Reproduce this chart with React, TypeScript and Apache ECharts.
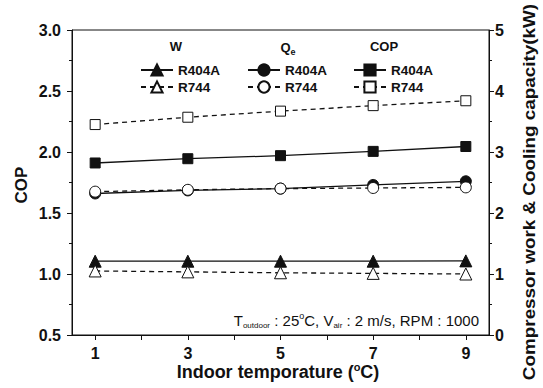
import React, { useEffect, useRef } from "react";
import * as echarts from "echarts";

const categories = ["1", "2", "3", "4", "5", "6", "7", "8", "9"];
const temps = ["1", "3", "5", "7", "9"];
const copR404A = [1.91, 1.945, 1.97, 2.005, 2.045];
const copR744 = [2.225, 2.285, 2.335, 2.38, 2.42];
const qeR404A = [2.32, 2.37, 2.4, 2.46, 2.52];
const qeR744 = [2.35, 2.38, 2.4, 2.41, 2.42];
const wR404A = [1.21, 1.21, 1.21, 1.21, 1.215];
const wR744 = [1.05, 1.035, 1.02, 1.01, 1.0];

const FONT = "Liberation Sans, Arial, Helvetica, sans-serif";
const BLACK = "#111";

function pairs(vals: number[]) {
  return temps.map((t, i) => [t, vals[i]]);
}

export default function App() {
  const ref = useRef<HTMLDivElement>(null);
  useEffect(() => {
    if (!ref.current) return;
    const chart = echarts.init(ref.current, undefined, { renderer: "svg" });
    const mk = (
      name: string,
      vals: number[],
      axis: number,
      symbol: string,
      filled: boolean,
      size: number
    ) => ({
      name,
      type: "line",
      yAxisIndex: axis,
      data: pairs(vals),
      symbol,
      symbolSize: size,
      showSymbol: true,
      lineStyle: { color: BLACK, width: 1.3, type: filled ? "solid" : [5, 4] },
      itemStyle: {
        color: filled ? BLACK : "#fff",
        borderColor: BLACK,
        borderWidth: 1,
      },
      z: filled ? 3 : 4,
    });
    const fmt = (n: string) => n.split("_")[1];
    const legendBase = {
      orient: "vertical",
      top: 63,
      padding: 0,
      itemWidth: 32,
      itemHeight: 14,
      itemGap: 3,
      formatter: fmt,
      textStyle: { fontFamily: FONT, fontWeight: "bold", fontSize: 13.5, color: BLACK },
    };
    chart.setOption({
      animation: false,
      backgroundColor: "#fff",
      grid: {
        left: 72,
        right: 54,
        top: 30,
        bottom: 53,
        show: true,
        borderColor: BLACK,
        borderWidth: 1,
      },
      legend: [
        { ...legendBase, left: 140, data: ["W_R404A", "W_R744"] },
        { ...legendBase, left: 247, data: ["Qe_R404A", "Qe_R744"] },
        { ...legendBase, left: 353, data: ["COP_R404A", "COP_R744"] },
      ],
      xAxis: {
        type: "category",
        data: categories,
        boundaryGap: true,
        axisLine: { lineStyle: { color: BLACK, width: 1 } },
        axisTick: { show: true, alignWithLabel: true, interval: 0, length: 5, lineStyle: { color: BLACK } },
        axisLabel: {
          interval: 1,
          margin: 10,
          fontFamily: FONT,
          fontWeight: "bold",
          fontSize: 16,
          color: BLACK,
        },
      },
      yAxis: [
        {
          type: "value",
          min: 0.5,
          max: 3.0,
          interval: 0.5,
          position: "left",
          splitLine: { show: false },
          axisLine: { show: true, lineStyle: { color: BLACK } },
          axisTick: { show: true, length: 5, lineStyle: { color: BLACK } },
          minorTick: { show: true, splitNumber: 2, length: 3, lineStyle: { color: BLACK } },
          axisLabel: {
            formatter: (v: number) => v.toFixed(1),
            margin: 11,
            fontFamily: FONT,
            fontWeight: "bold",
            fontSize: 16,
            color: BLACK,
          },
        },
        {
          type: "value",
          min: 0,
          max: 5,
          interval: 1,
          position: "right",
          splitLine: { show: false },
          axisLine: { show: true, lineStyle: { color: BLACK } },
          axisTick: { show: true, length: 5, lineStyle: { color: BLACK } },
          minorTick: { show: true, splitNumber: 2, length: 3, lineStyle: { color: BLACK } },
          axisLabel: {
            margin: 6,
            fontFamily: FONT,
            fontWeight: "bold",
            fontSize: 16,
            color: BLACK,
          },
        },
      ],
      graphic: [
        {
          type: "text",
          x: 176,
          y: 46,
          style: { text: "W", fontFamily: FONT, fontWeight: "bold", fontSize: 13, fill: BLACK, align: "center", verticalAlign: "middle" },
        },
        {
          type: "text",
          x: 288,
          y: 47,
          style: {
            text: "Q{sub|e}",
            fontFamily: FONT,
            fontWeight: "bold",
            fontSize: 13,
            fill: BLACK,
            align: "center",
            verticalAlign: "middle",
            rich: { sub: { fontFamily: FONT, fontWeight: "bold", fontSize: 9, fill: BLACK, padding: [9, 0, 0, 0] } },
          },
        },
        {
          type: "text",
          x: 384,
          y: 46,
          style: { text: "COP", fontFamily: FONT, fontWeight: "bold", fontSize: 13, fill: BLACK, align: "center", verticalAlign: "middle" },
        },
        {
          type: "text",
          x: 479,
          y: 320,
          style: {
            text: "T{sub|outdoor} : 25{sup|o}C, V{sub|air} : 2 m/s, RPM : 1000",
            fontFamily: FONT,
            fontSize: 15,
            fill: BLACK,
            align: "right",
            verticalAlign: "middle",
            rich: {
              sub: { fontFamily: FONT, fontSize: 8, fill: BLACK, padding: [10, 0, 0, 0] },
              sup: { fontFamily: FONT, fontSize: 9, fill: BLACK, padding: [0, 0, 9, 0] },
            },
          },
        },
        {
          type: "text",
          x: 21,
          y: 185,
          rotation: Math.PI / 2,
          style: {
            text: "COP",
            fontFamily: FONT,
            fontWeight: "bold",
            fontSize: 17,
            fill: BLACK,
            align: "center",
            verticalAlign: "middle",
          },
        },
        {
          type: "text",
          x: 278,
          y: 372,
          style: {
            text: "Indoor temporature ({sup|o}C)",
            fontFamily: FONT,
            fontWeight: "bold",
            fontSize: 18,
            fill: BLACK,
            align: "center",
            verticalAlign: "middle",
            rich: {
              sup: { fontFamily: FONT, fontWeight: "bold", fontSize: 11, fill: BLACK, padding: [0, 0, 10, 0] },
            },
          },
        },
        {
          type: "text",
          x: 530,
          y: 192,
          rotation: Math.PI / 2,
          scaleX: 1.18,
          style: {
            text: "Compressor work & Cooling capacity(kW)",
            fontFamily: FONT,
            fontWeight: "bold",
            fontSize: 16,
            fill: BLACK,
            align: "center",
            verticalAlign: "middle",
          },
        },
      ],
      series: [
        mk("W_R404A", wR404A, 1, "triangle", true, 12),
        mk("W_R744", wR744, 1, "triangle", false, 12),
        mk("Qe_R404A", qeR404A, 1, "circle", true, 11),
        mk("Qe_R744", qeR744, 1, "circle", false, 11),
        mk("COP_R404A", copR404A, 0, "rect", true, 10),
        mk("COP_R744", copR744, 0, "rect", false, 10),
      ],
    });
    return () => chart.dispose();
  }, []);
  return (
    <div
      ref={ref}
      style={{ position: "absolute", left: 0, top: 0, width: 543, height: 388 }}
    />
  );
}
